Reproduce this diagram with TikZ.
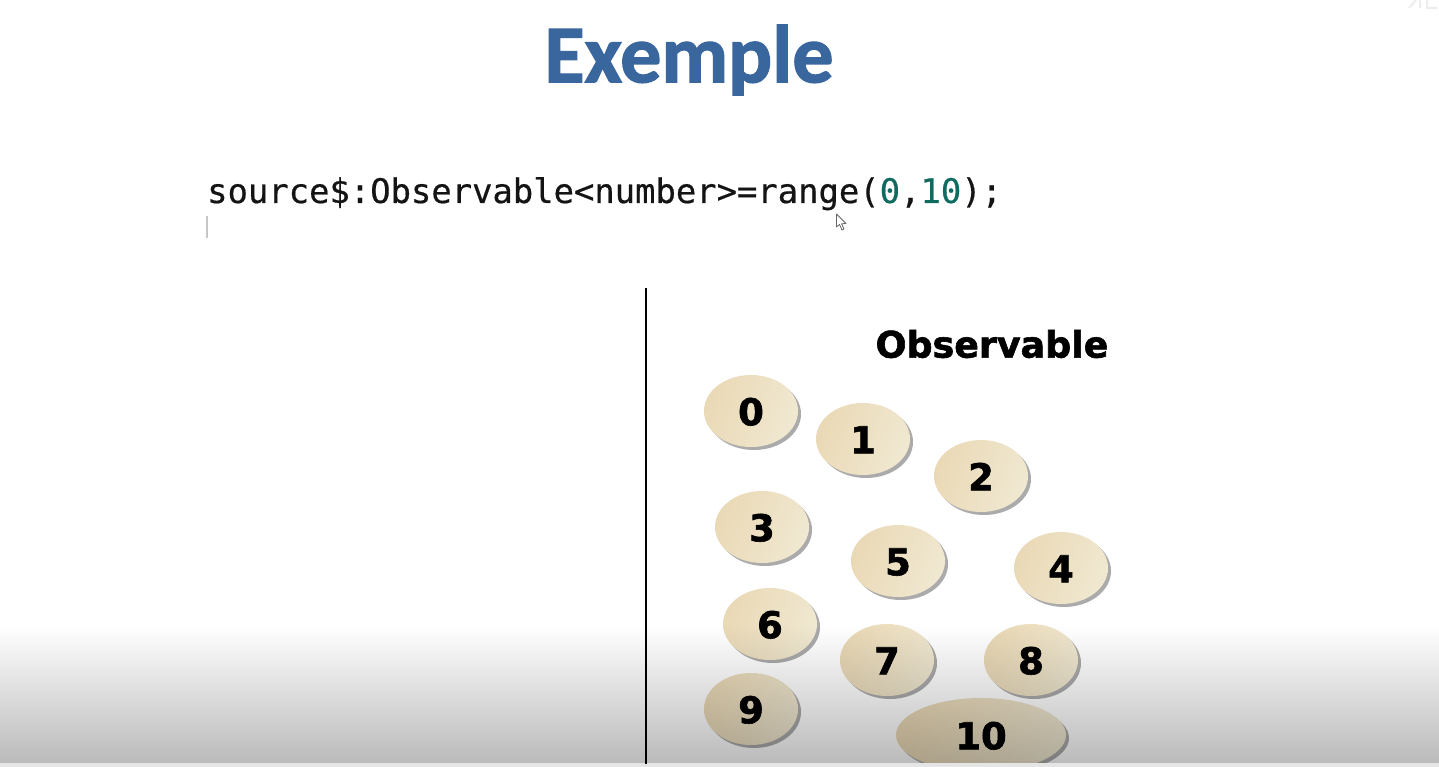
\documentclass[tikz,border=0pt]{standalone}
\usepackage{fontspec}
\usetikzlibrary{shapes.geometric,shadows}
\setmainfont[BoldFeatures={FakeBold=1.6}]{DejaVu Sans}
\newfontfamily\titlefont[BoldFeatures={FakeBold=1.6}]{Carlito}
\newfontfamily\codefont[FakeBold=0.5]{DejaVu Sans Mono}
\definecolor{titleblue}{HTML}{3A669E}
\definecolor{numgreen}{HTML}{0F6B5F}
\definecolor{disctan}{HTML}{EAD9B6}
\definecolor{disclight}{HTML}{F0E8D1}
\tikzset{
  disc/.style={ellipse,inner sep=0pt,minimum width=94pt,minimum height=72pt,
    left color=disctan,right color=disclight,shading angle=70,
    general shadow={fill=black!33,shadow xshift=3pt,shadow yshift=-3pt},
    font=\fontsize{37}{37}\selectfont\bfseries,text=black,text height=28.5pt,text depth=0pt},
  wide/.style={minimum width=170pt,minimum height=74pt}
}
\begin{document}
\begin{tikzpicture}[x=1pt,y=-1pt]
\useasboundingbox (0,0) rectangle (1439,767);
\fill[white] (0,0) rectangle (1439,767);
% faint logo remnant
\draw[black!7,line width=2pt] (1381,0) arc[start angle=180,end angle=360,x radius=11,y radius=7];
\draw[black!7,line width=2pt] (1409,8) -- (1416,0) (1420,0) -- (1420,8) (1427,0) -- (1427,8) -- (1437,8);
% title and code
\node[anchor=center,inner sep=0pt,text=titleblue,font=\fontsize{82}{82}\selectfont\titlefont\bfseries] (title) at (689,60) {Exemple};
\node[anchor=base west,inner sep=0pt,font=\fontsize{33.85}{34}\selectfont\codefont,text=black!92] (code) at (207,203)
  {source\$:Observable<number>=range(\textcolor{numgreen}{0},\textcolor{numgreen}{10});};
\coordinate (caretA) at (207,216);
\coordinate (caretB) at (207,238);
\draw[black!22,line width=2pt] (caretA) -- (caretB);
% mouse cursor
\draw[black!60,fill=white,line width=.8pt,line join=round] (836.5,214) -- (836.5,227) -- (839.5,224.5) -- (842,230) -- (844,229) -- (841.5,223.8) -- (846,223.5) -- cycle;
% heading
\node[inner sep=0pt,font=\fontsize{36.4}{38}\selectfont\bfseries] (obs) at (992,344) {Observable};
% discs
\node[disc] (n0) at (751,411) {0};
\node[disc] (n1) at (863,439) {1};
\node[disc] (n2) at (981,476) {2};
\node[disc] (n3) at (762,527) {3};
\node[disc] (n4) at (1061,568) {4};
\node[disc] (n5) at (898,561) {5};
\node[disc] (n6) at (770,624) {6};
\node[disc] (n7) at (887,660) {7};
\node[disc] (n8) at (1031,660) {8};
\node[disc] (n9) at (751,709) {9};
\node[disc,wide] (n10) at (981,735) {10};
% lower fade
\begin{scope}[blend mode=multiply]
\shade[top color=white,bottom color=black!27] (0,625) rectangle (1439,763);
\end{scope}
\fill[black!10] (0,763) rectangle (1439,767);
% divider
\coordinate (divTop) at (645.5,288);
\coordinate (divBot) at (645.5,764);
\draw[black,line width=2pt] (divTop) -- (divBot);
\end{tikzpicture}
\end{document}
